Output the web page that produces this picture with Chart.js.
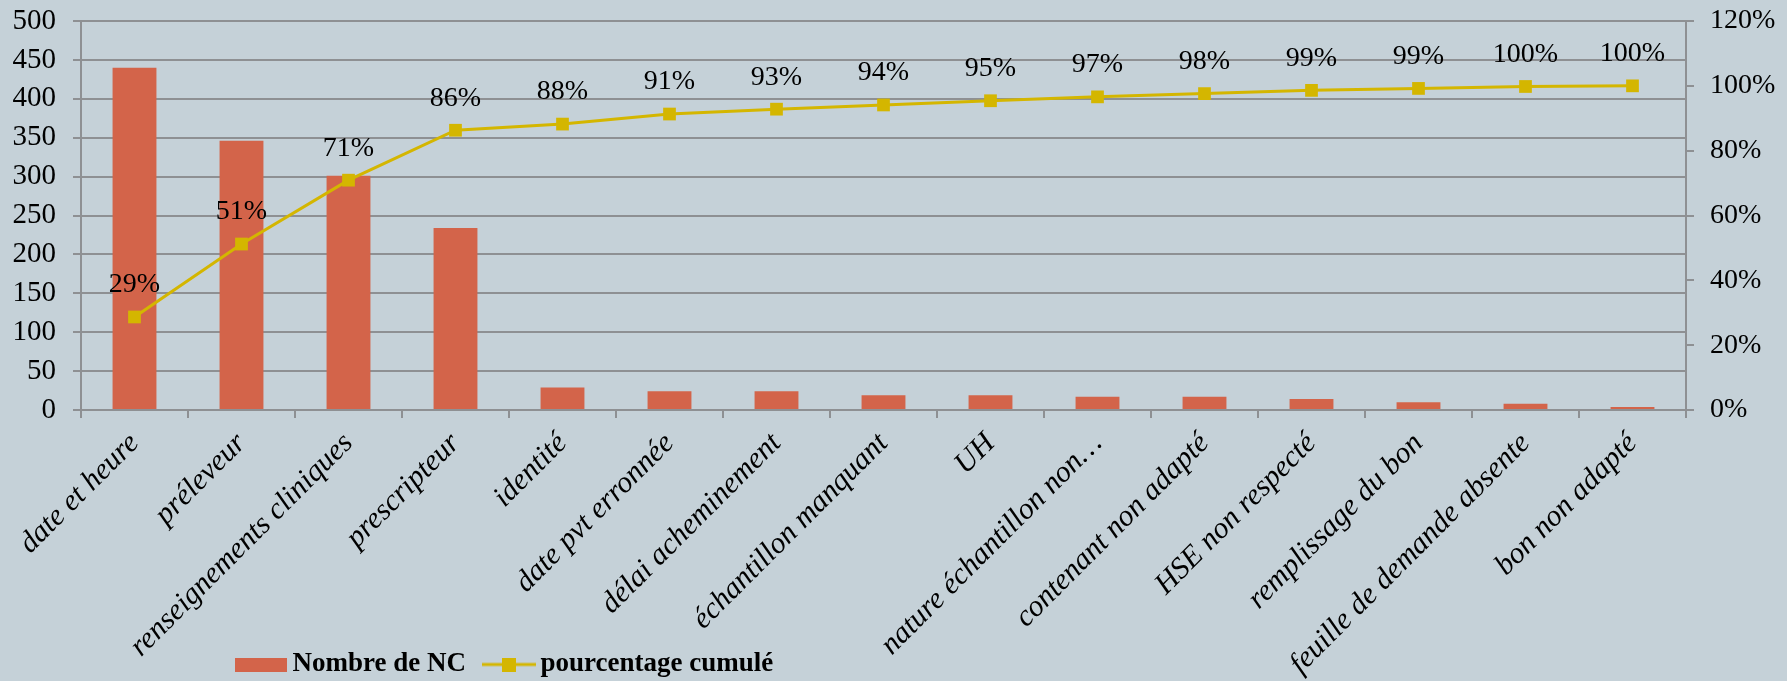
<!DOCTYPE html>
<html>
<head>
<meta charset="utf-8">
<title>Pareto des non-conformités</title>
<script src="https://cdn.jsdelivr.net/npm/chart.js@4.4.1/dist/chart.umd.min.js"></script>
<style>
  html, body { margin: 0; padding: 0; background: #c5d1d8; }
  #wrap { width: 1787px; height: 681px; }
</style>
</head>
<body>
<div id="wrap"><canvas id="paretoChart" width="1787" height="681"></canvas></div>
<script>
// Data
const categories = [
  'date et heure', 'préleveur', 'renseignements cliniques', 'prescripteur', 'identité',
  'date pvt erronnée', 'délai acheminement', 'échantillon manquant', 'UH',
  'nature échantillon non…', 'contenant non adapté', 'HSE non respecté',
  'remplissage du bon', 'feuille de demande absente', 'bon non adapté'
];
const nombreNC = [440, 346, 301, 234, 29, 24, 24, 19, 19, 17, 17, 14, 10, 8, 4];
const pourcentageCumule = [28.7, 51.2, 70.9, 86.3, 88.2, 91.3, 92.8, 94.1, 95.4, 96.6, 97.6, 98.6, 99.2, 99.8, 100.0];
const leftAxis = { max: 500, step: 50 };
const rightAxis = { max: 120, step: 20 };

const BAR_COLOR = '#d3644a';
const LINE_COLOR = '#d4b600';
const GRID_COLOR = '#8e9093';

Chart.defaults.font.family = '"Liberation Serif", "Times New Roman", serif';
Chart.defaults.color = '#000';

// legend icons (bar box and line with square marker)
function barIcon() {
  const c = document.createElement('canvas');
  c.width = 52; c.height = 14;
  const g = c.getContext('2d');
  g.fillStyle = BAR_COLOR;
  g.fillRect(0, 0, 52, 14);
  return c;
}
function lineIcon() {
  const c = document.createElement('canvas');
  c.width = 54; c.height = 14;
  const g = c.getContext('2d');
  g.strokeStyle = LINE_COLOR;
  g.lineWidth = 3;
  g.beginPath(); g.moveTo(0, 7); g.lineTo(54, 7); g.stroke();
  g.fillStyle = LINE_COLOR;
  g.fillRect(20, 0, 14, 14);
  return c;
}
const icons = [barIcon(), lineIcon()];

// percentage labels above the line points
const pctLabels = {
  id: 'pctLabels',
  afterDatasetsDraw(chart) {
    const meta = chart.getDatasetMeta(1);
    const ctx = chart.ctx;
    ctx.save();
    ctx.font = '28px "Liberation Serif"';
    ctx.fillStyle = '#000';
    ctx.textAlign = 'center';
    ctx.textBaseline = 'middle';
    meta.data.forEach((pt, i) => {
      ctx.fillText(Math.round(pourcentageCumule[i]) + '%', pt.x, pt.y - 32);
    });
    ctx.restore();
  }
};

// legend sits left of centre in the original; x labels run down over it
const legendPlacer = {
  id: 'legendPlacer',
  afterLayout(chart) {
    const lg = chart.legend;
    if (lg) {
      const w = lg.width, h = lg.height;
      lg.left = 243 - lg.options.labels.padding;
      lg.right = lg.left + w;
      lg.top = 626;
      lg.bottom = lg.top + h;
    }
    chart.scales.x.bottom = chart.height;
  }
};

// y axes: fixed width, no extra top/bottom padding from the tick labels
function fixY(width) {
  return scale => {
    scale.width = width;
    scale.paddingTop = 0;
    scale.paddingBottom = 0;
  };
}

new Chart(document.getElementById('paretoChart'), {
  type: 'bar',
  data: {
    labels: categories,
    datasets: [
      {
        label: 'Nombre de NC',
        data: nombreNC,
        backgroundColor: BAR_COLOR,
        categoryPercentage: 1,
        barPercentage: 0.41,
        yAxisID: 'y',
        order: 2
      },
      {
        type: 'line',
        label: 'pourcentage cumulé',
        data: pourcentageCumule,
        borderColor: LINE_COLOR,
        backgroundColor: LINE_COLOR,
        borderWidth: 3,
        pointStyle: 'rect',
        pointRadius: 9,
        pointBorderWidth: 0,
        pointBackgroundColor: LINE_COLOR,
        tension: 0,
        yAxisID: 'y1',
        order: 1
      }
    ]
  },
  options: {
    responsive: false,
    animation: false,
    devicePixelRatio: 1,
    layout: { padding: { top: 21, left: 0, right: 0, bottom: 0 } },
    plugins: {
      tooltip: { enabled: false },
      legend: {
        position: 'bottom',
        align: 'start',
        labels: {
          usePointStyle: true,
          pointStyleWidth: 36,
          padding: 25,
          font: { size: 27, weight: 'bold' },
          color: '#000',
          generateLabels(chart) {
            const items = Chart.defaults.plugins.legend.labels.generateLabels(chart);
            items.sort((a, b) => a.datasetIndex - b.datasetIndex);
            items.forEach(it => { it.pointStyle = icons[it.datasetIndex]; });
            return items;
          }
        }
      }
    },
    scales: {
      x: {
        offset: true,
        grid: { offset: true, drawOnChartArea: false, drawTicks: true, tickLength: 8, color: GRID_COLOR, lineWidth: 2 },
        border: { color: GRID_COLOR, width: 2 },
        ticks: {
          autoSkip: false,
          minRotation: 45,
          maxRotation: 45,
          padding: 8,
          font: { size: 30, style: 'italic' }
        },
        afterFit(scale) { scale.height = 209; }
      },
      y: {
        position: 'left',
        min: 0,
        max: leftAxis.max,
        ticks: { stepSize: leftAxis.step, autoSkip: false, padding: 17, font: { size: 29 } },
        grid: { color: GRID_COLOR, lineWidth: 2, tickLength: 8 },
        border: { color: GRID_COLOR, width: 2 },
        afterFit: fixY(81)
      },
      y1: {
        position: 'right',
        min: 0,
        max: rightAxis.max,
        ticks: { stepSize: rightAxis.step, autoSkip: false, padding: 16, font: { size: 28 }, callback: v => v + '%' },
        grid: { drawOnChartArea: false, color: GRID_COLOR, lineWidth: 2, tickLength: 8 },
        border: { color: GRID_COLOR, width: 2 },
        afterFit: fixY(101)
      }
    }
  },
  plugins: [pctLabels, legendPlacer]
});
</script>
</body>
</html>
